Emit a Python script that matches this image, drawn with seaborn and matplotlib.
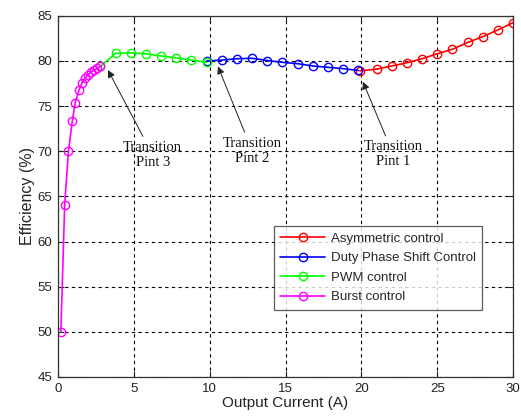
import pandas as pd
import seaborn as sns
import matplotlib.pyplot as plt

# Efficiency curves (output current in A, efficiency in %)
asym_current = [19.9, 21, 22, 23, 24, 25, 26, 27, 28, 29, 30]
asym_eff = [78.9, 79.1, 79.45, 79.8, 80.25, 80.8, 81.3, 82.05, 82.7, 83.45, 84.25]

dps_current = [9.8, 10.8, 11.8, 12.8, 13.8, 14.8, 15.8, 16.8, 17.8, 18.8, 19.8]
dps_eff = [80.0, 80.1, 80.25, 80.3, 80.05, 79.85, 79.7, 79.45, 79.3, 79.15, 78.95]

pwm_current = [2.8, 3.8, 4.8, 5.8, 6.8, 7.8, 8.8, 9.8]
pwm_eff = [79.4, 80.85, 80.9, 80.8, 80.55, 80.35, 80.1, 79.85]

burst_current = [0.2, 0.45, 0.7, 0.95, 1.15, 1.4, 1.6, 1.8, 2.0, 2.2, 2.4, 2.6, 2.8]
burst_eff = [50, 64, 70, 73.3, 75.4, 76.8, 77.6, 78.1, 78.5, 78.8, 79.0, 79.2, 79.4]

series = [
    ('Asymmetric control', asym_current, asym_eff, '#ff0000'),
    ('Duty Phase Shift Control', dps_current, dps_eff, '#0000ff'),
    ('PWM control', pwm_current, pwm_eff, '#00ff00'),
    ('Burst control', burst_current, burst_eff, '#ff00ff'),
]

# transition annotations: (label, arrow tip, text centre)
transitions = [
    ('Transition\nPint 3', (3.3, 79.0), (6.25, 69.6)),
    ('Transition\nPint 2', (10.55, 79.4), (12.8, 70.05)),
    ('Transition\nPint 1', (20.1, 77.7), (22.1, 69.65)),
]

sns.set_style('white')
plt.rcParams['font.family'] = ['Liberation Sans', 'DejaVu Sans']

fig = plt.figure(figsize=(5.21, 4.17), dpi=100)
ax = fig.add_axes([0.111, 0.096, 0.874, 0.866])

for name, xs, ys, color in series:
    df = pd.DataFrame({'current': xs, 'eff': ys})
    sns.lineplot(data=df, x='current', y='eff', ax=ax, color=color, label=name,
                 marker='o', markersize=6, markerfacecolor='none',
                 markeredgecolor=color, markeredgewidth=1.0, linewidth=1.2,
                 sort=False, estimator=None)

for text, tip, pos in transitions:
    ax.annotate(text, xy=tip, xytext=pos, ha='center', va='center',
                fontsize=10.5, family=['Liberation Serif', 'DejaVu Serif'],
                color='#111111',
                arrowprops=dict(arrowstyle='-|>', color='#222222', lw=0.7,
                                mutation_scale=11, shrinkA=1, shrinkB=0))

ax.set_xlim(0, 30)
ax.set_ylim(45, 85)
ax.set_xticks(range(0, 31, 5))
ax.set_yticks(range(45, 86, 5))
ax.grid(True, color='black', linestyle=(0, (3, 3)), linewidth=0.8)
ax.tick_params(direction='in', length=4, labelsize=9.5, colors='#222222',
               top=True, right=True, bottom=True, left=True, pad=4)
for sp in ax.spines.values():
    sp.set_color('#333333')
    sp.set_linewidth(0.9)

ax.set_xlabel('Output Current (A)', fontsize=11, color='#222222', labelpad=1)
ax.set_ylabel('Efficiency (%)', fontsize=11.5, color='#222222', labelpad=2)

leg = ax.legend(loc='lower right', bbox_to_anchor=(0.932, 0.186), fontsize=9.5,
                frameon=True, fancybox=False, edgecolor='#333333',
                handlelength=3.4, labelspacing=0.55, borderpad=0.5,
                handletextpad=0.4, borderaxespad=0)
leg.get_frame().set_linewidth(0.9)

fig.savefig('out.png', dpi=100)
